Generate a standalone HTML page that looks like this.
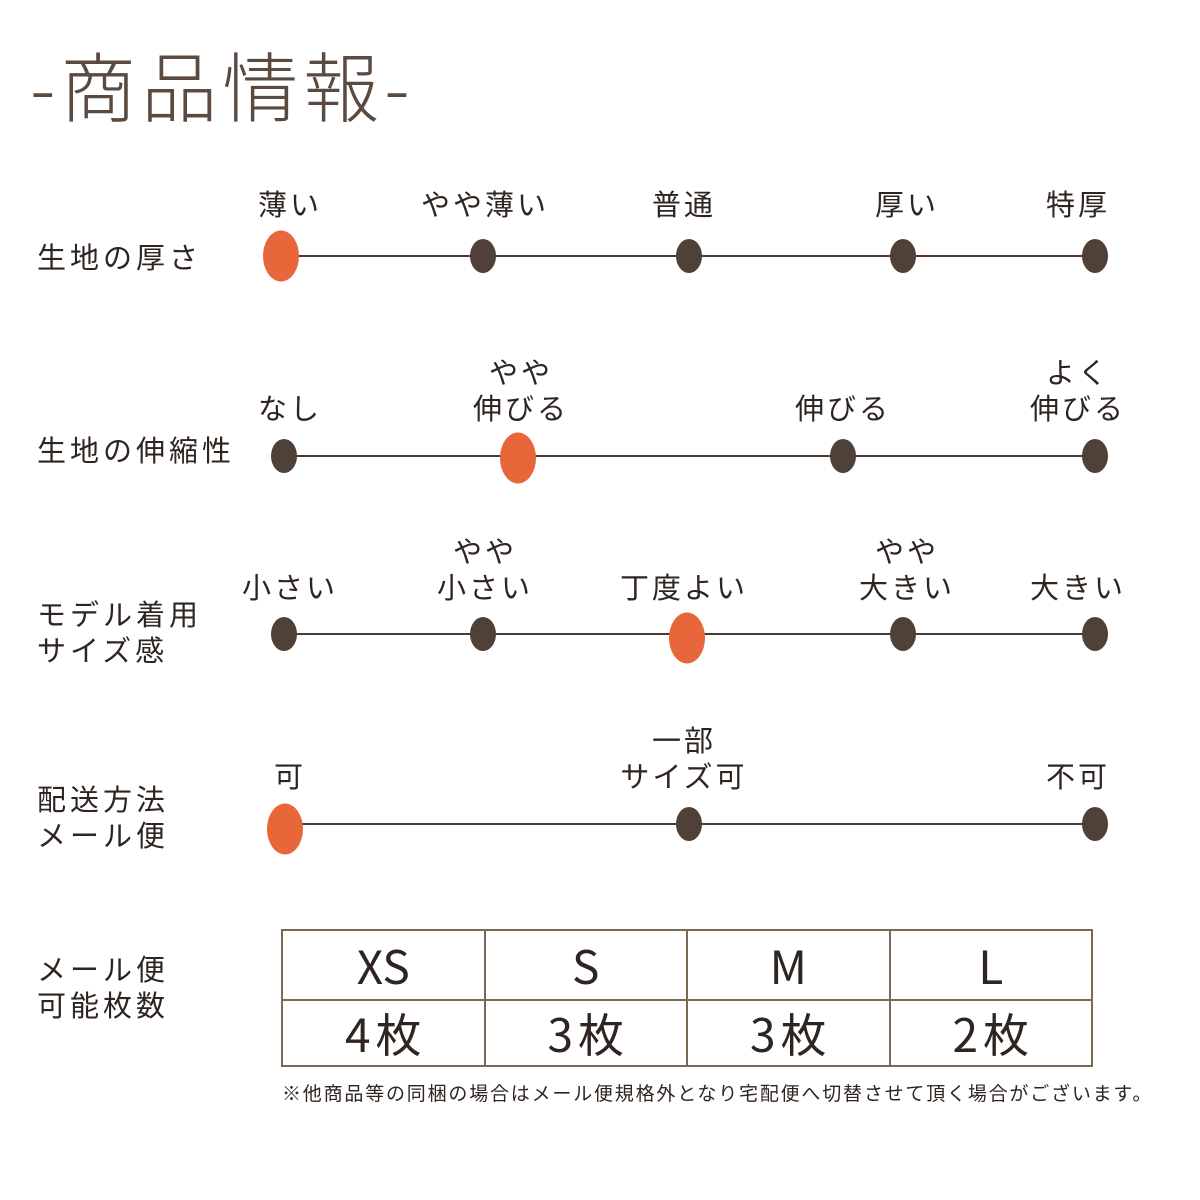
<!DOCTYPE html>
<html><head><meta charset="utf-8"><style>
body{margin:0;width:1200px;height:1200px;background:#fff;position:relative;overflow:hidden;font-family:"Liberation Sans","Noto Sans CJK JP",sans-serif;color:#2e2420}
.t{position:absolute;transform:translate(-50%,-50%);font-size:29px;line-height:36px;text-align:center;white-space:nowrap;letter-spacing:3px}
.l{position:absolute;font-size:29px;line-height:36px;letter-spacing:4px;transform:translateY(-50%);white-space:nowrap}
.ln{position:absolute;height:2px;background:#4a3a30}
.d{position:absolute;width:26px;height:34px;border-radius:50%;background:#4f4038;transform:translate(-50%,-50%)}
.o{position:absolute;width:36px;height:51px;border-radius:50%;background:#e8673a;transform:translate(-50%,-50%)}
table{position:absolute;left:281px;top:929px;width:812px;height:136px;border-collapse:collapse}
td{border:2px solid #7a6a55;text-align:center;font-size:46px;color:#2e2420;padding:0;width:25%;font-family:"Noto Sans CJK JP",sans-serif;line-height:1}
tr.n td{letter-spacing:5px;text-indent:5px}
</style></head><body>
<div style="position:absolute;left:30px;top:36px;font-size:76px;line-height:94px;color:#5a4a40;font-weight:300;letter-spacing:5px;font-family:'Noto Sans CJK JP',sans-serif">-商品情報-</div>

<div class="l" style="left:37px;top:259px">生地の厚さ</div>
<div class="ln" style="left:281px;width:814px;top:255px"></div>
<div class="t" style="left:290px;top:206px">薄い</div>
<div class="t" style="left:485px;top:206px">やや薄い</div>
<div class="t" style="left:684px;top:206px">普通</div>
<div class="t" style="left:907px;top:206px">厚い</div>
<div class="t" style="left:1078px;top:206px">特厚</div>
<div class="o" style="left:281px;top:256px"></div>
<div class="d" style="left:483px;top:256px"></div>
<div class="d" style="left:689px;top:256px"></div>
<div class="d" style="left:903px;top:256px"></div>
<div class="d" style="left:1095px;top:256px"></div>

<div class="l" style="left:37px;top:452px">生地の伸縮性</div>
<div class="ln" style="left:284px;width:811px;top:455px"></div>
<div class="t" style="left:290px;top:410px">なし</div>
<div class="t" style="left:521px;top:392px">やや<br>伸びる</div>
<div class="t" style="left:843px;top:410px">伸びる</div>
<div class="t" style="left:1078px;top:392px">よく<br>伸びる</div>
<div class="d" style="left:284px;top:456px"></div>
<div class="o" style="left:518px;top:458px"></div>
<div class="d" style="left:843px;top:456px"></div>
<div class="d" style="left:1095px;top:456px"></div>

<div class="l" style="left:37px;top:634px">モデル着用<br>サイズ感</div>
<div class="ln" style="left:284px;width:811px;top:633px"></div>
<div class="t" style="left:290px;top:589px">小さい</div>
<div class="t" style="left:485px;top:571px">やや<br>小さい</div>
<div class="t" style="left:684px;top:589px">丁度よい</div>
<div class="t" style="left:907px;top:571px">やや<br>大きい</div>
<div class="t" style="left:1078px;top:589px">大きい</div>
<div class="d" style="left:284px;top:634px"></div>
<div class="d" style="left:483px;top:634px"></div>
<div class="o" style="left:687px;top:638px"></div>
<div class="d" style="left:903px;top:634px"></div>
<div class="d" style="left:1095px;top:634px"></div>

<div class="l" style="left:37px;top:819px">配送方法<br>メール便</div>
<div class="ln" style="left:285px;width:810px;top:823px"></div>
<div class="t" style="left:290px;top:778px">可</div>
<div class="t" style="left:684px;top:760px">一部<br>サイズ可</div>
<div class="t" style="left:1078px;top:778px">不可</div>
<div class="o" style="left:285px;top:829px"></div>
<div class="d" style="left:689px;top:824px"></div>
<div class="d" style="left:1095px;top:824px"></div>

<div class="l" style="left:37px;top:989px">メール便<br>可能枚数</div>
<table><tr style="height:70px"><td>XS</td><td>S</td><td>M</td><td>L</td></tr>
<tr class="n" style="height:66px"><td>4枚</td><td>3枚</td><td>3枚</td><td>2枚</td></tr></table>
<div style="position:absolute;left:282px;top:1082px;font-size:19px;line-height:26px;letter-spacing:1.8px;white-space:nowrap">※他商品等の同梱の場合はメール便規格外となり宅配便へ切替させて頂く場合がございます。</div>
</body></html>
